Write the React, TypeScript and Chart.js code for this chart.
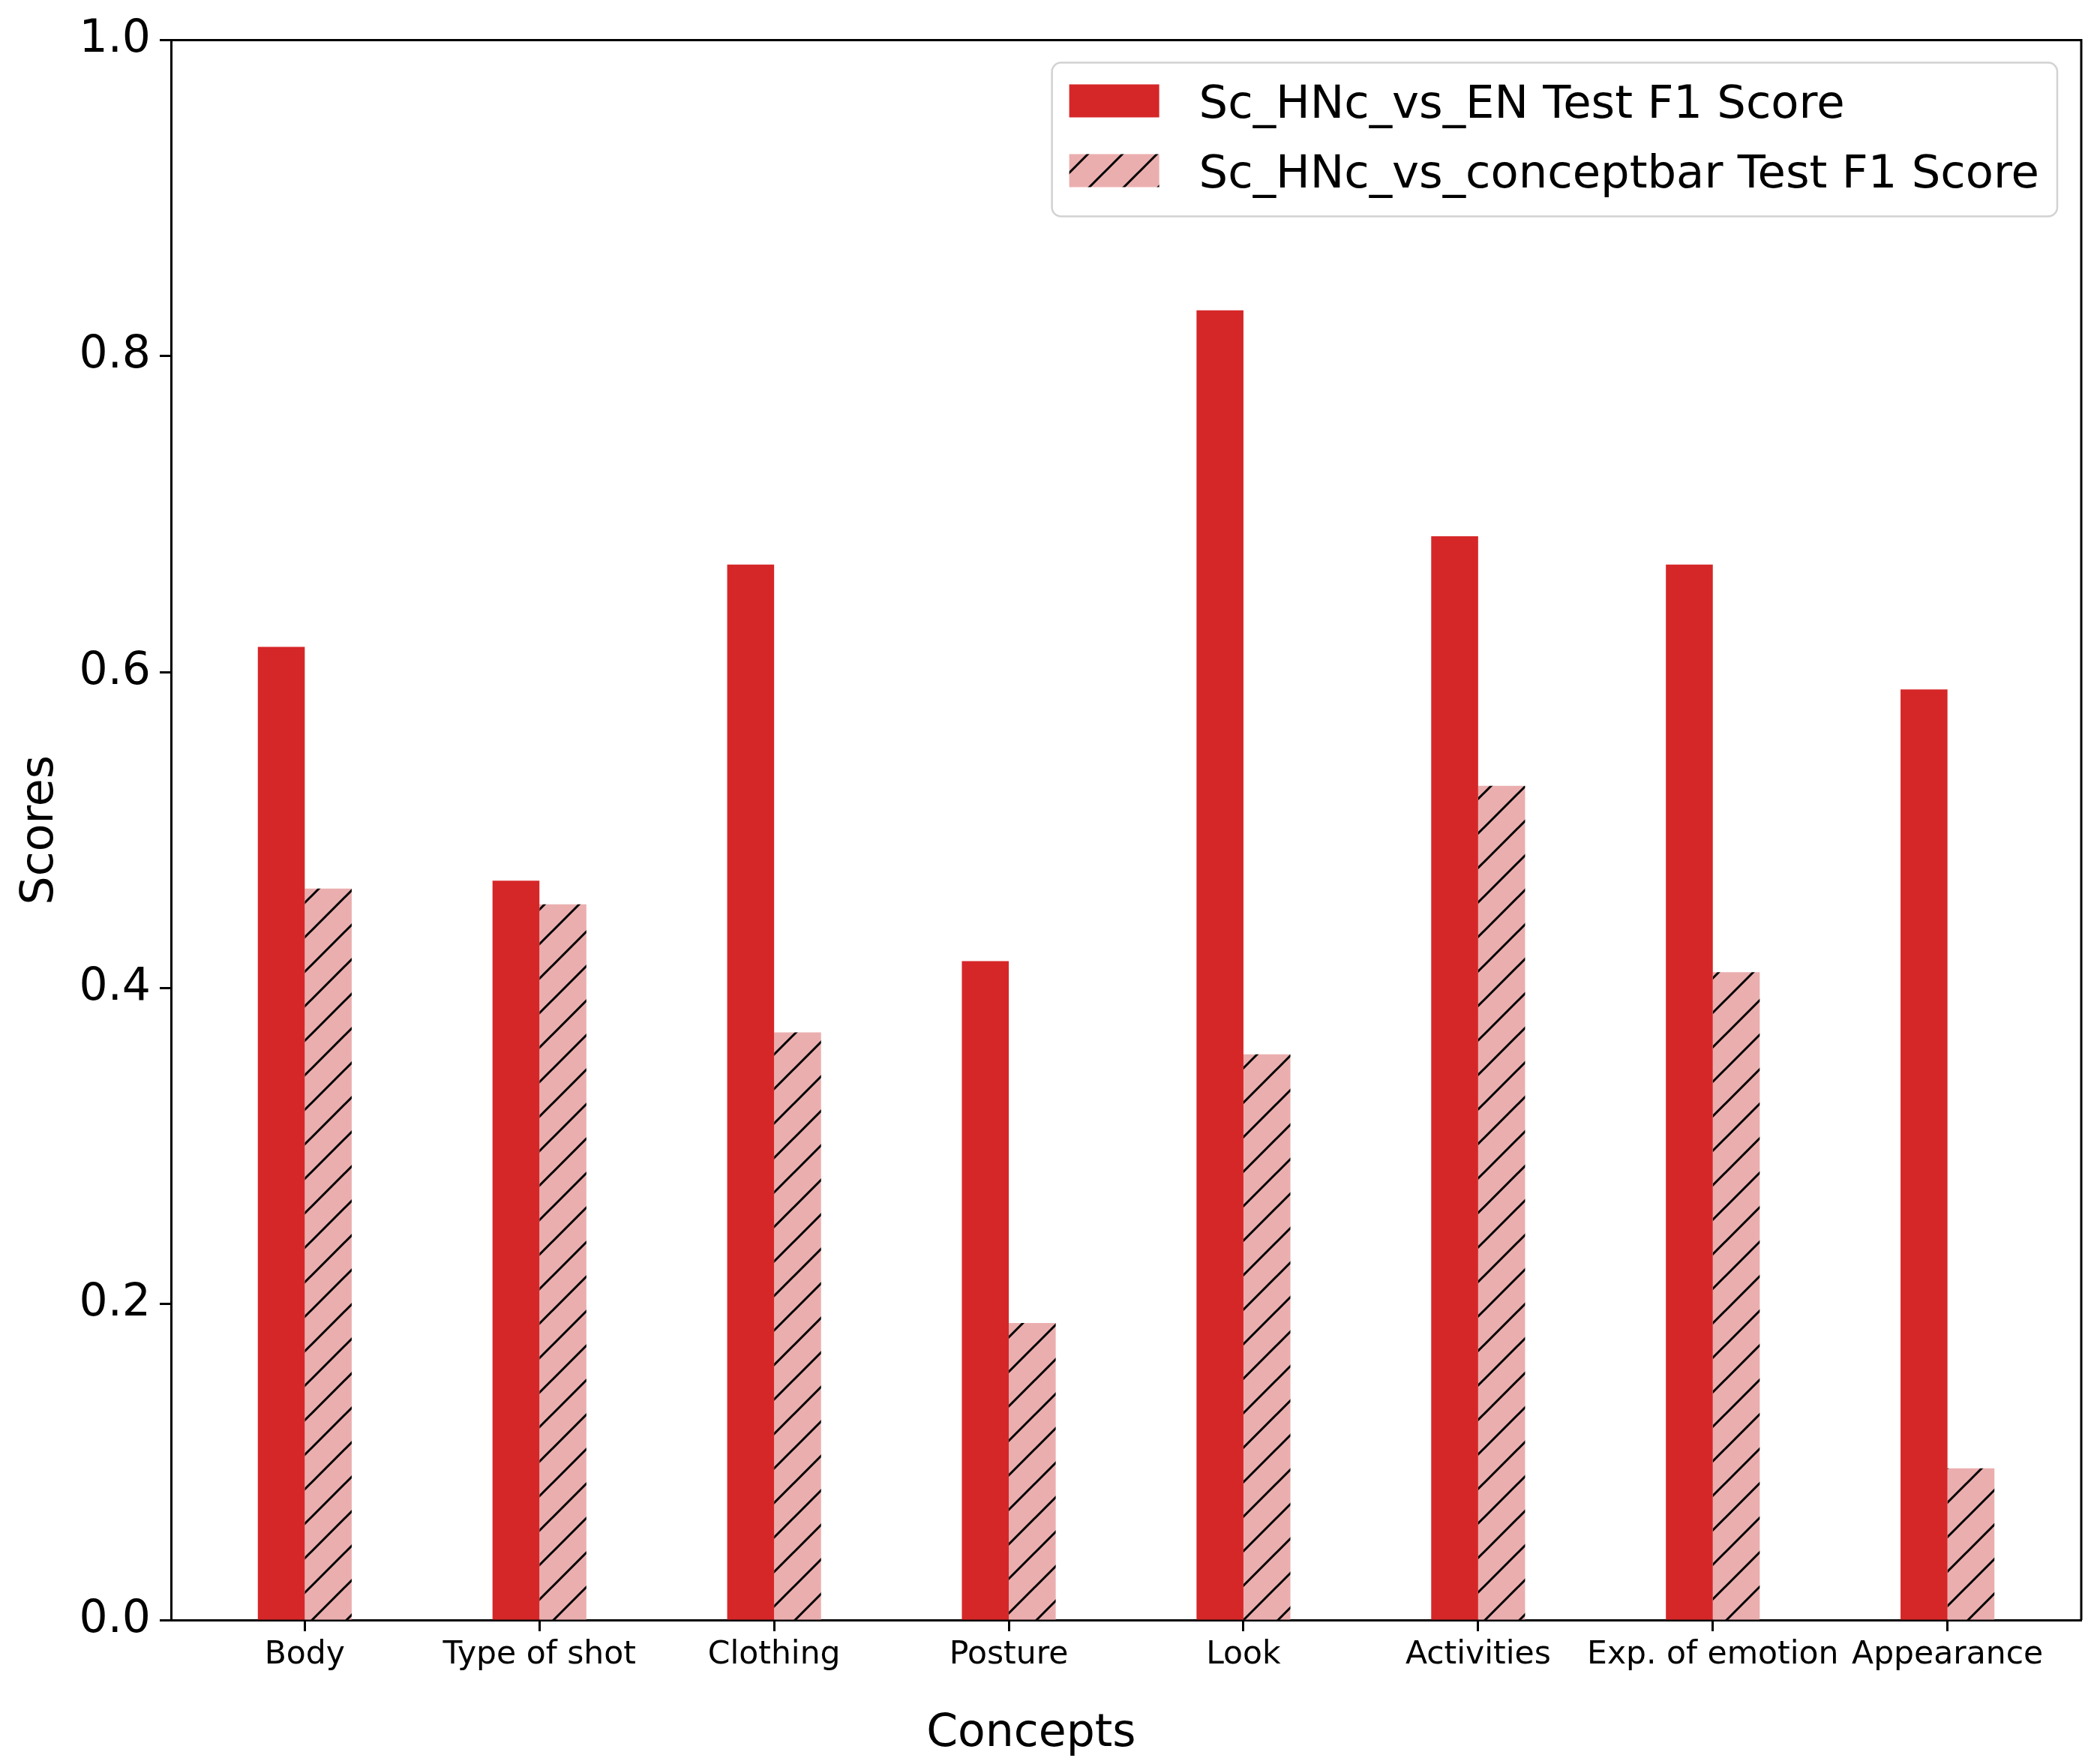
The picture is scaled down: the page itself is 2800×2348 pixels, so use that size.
import React, { useEffect, useRef } from "react"
import { Chart, registerables } from "chart.js"

Chart.register(...registerables)

const concepts = [
  "Body",
  "Type of shot",
  "Clothing",
  "Posture",
  "Look",
  "Activities",
  "Exp. of emotion",
  "Appearance",
]
const enScores = [0.616, 0.468, 0.668, 0.417, 0.829, 0.686, 0.668, 0.589]
const conceptbarScores = [0.463, 0.453, 0.372, 0.188, 0.358, 0.528, 0.41, 0.096]
const seriesLabels = [
  "Sc_HNc_vs_EN Test F1 Score",
  "Sc_HNc_vs_conceptbar Test F1 Score",
]
const yTicks = [0, 0.2, 0.4, 0.6, 0.8, 1.0]
const xTitle = "Concepts"
const yTitle = "Scores"

const RED = "#d62728"
const PINK = "#ebaeae"
const FONT = "'DejaVu Sans', sans-serif"

// diagonal '//' hatch like matplotlib
function makeHatch(): CanvasPattern | string {
  const s = 46
  const c = document.createElement("canvas")
  c.width = s
  c.height = s
  const g = c.getContext("2d")
  if (!g) return PINK
  g.fillStyle = PINK
  g.fillRect(0, 0, s, s)
  g.strokeStyle = "#000"
  g.lineWidth = 3
  g.beginPath()
  g.moveTo(0, s)
  g.lineTo(s, 0)
  g.moveTo(-s / 4, s / 4)
  g.lineTo(s / 4, -s / 4)
  g.moveTo((3 * s) / 4, (5 * s) / 4)
  g.lineTo((5 * s) / 4, (3 * s) / 4)
  g.stroke()
  return g.createPattern(c, "repeat") || PINK
}

const App: React.FC = () => {
  const canvasRef = useRef<HTMLCanvasElement>(null)
  const chartRef = useRef<Chart | null>(null)

  useEffect(() => {
    if (!canvasRef.current) return
    const ctx = canvasRef.current.getContext("2d")
    if (!ctx) return
    if (chartRef.current) chartRef.current.destroy()

    const hatch = makeHatch()

    // top/right spines, x title and the in-plot legend
    const decorations = {
      id: "decorations",
      afterDraw(chart: Chart) {
        const { ctx: c, chartArea: a } = chart
        c.save()
        c.strokeStyle = "#000"
        c.lineWidth = 3
        c.beginPath()
        c.moveTo(a.left, a.top)
        c.lineTo(a.right, a.top)
        c.lineTo(a.right, a.bottom)
        c.stroke()

        // x axis title
        c.fillStyle = "#000"
        c.font = `60px ${FONT}`
        c.textAlign = "center"
        c.textBaseline = "alphabetic"
        c.fillText(xTitle, a.left + (a.right - a.left) * 0.4503, 2328)

        // legend
        c.font = `60.8px ${FONT}`
        const textW = Math.max(...seriesLabels.map((l) => c.measureText(l).width))
        const padL = 23
        const swW = 120
        const swH = 44
        const gap = 53
        const padR = 24
        const boxW = padL + swW + gap + textW + padR
        const boxH = 205
        const boxR = a.right - 32
        const boxL = boxR - boxW
        const boxT = a.top + 30
        c.beginPath()
        c.roundRect(boxL, boxT, boxW, boxH, 12)
        c.fillStyle = "rgba(255,255,255,0.85)"
        c.fill()
        c.strokeStyle = "#d2d2d2"
        c.lineWidth = 2.5
        c.stroke()
        const fills = [RED, hatch]
        seriesLabels.forEach((label, i) => {
          const cy = boxT + 51 + i * 93
          c.fillStyle = fills[i] as any
          c.fillRect(boxL + padL, cy - swH / 2, swW, swH)
          c.fillStyle = "#000"
          c.textAlign = "left"
          c.textBaseline = "alphabetic"
          c.fillText(label, boxL + padL + swW + gap, cy + 22)
        })
        c.restore()
      },
    }

    chartRef.current = new Chart(ctx, {
      type: "bar",
      data: {
        datasets: [
          {
            label: seriesLabels[0],
            data: enScores.map((v, i) => ({ x: i, y: v })),
            backgroundColor: RED,
            borderWidth: 0,
            barPercentage: 1,
            categoryPercentage: 0.4,
          },
          {
            label: seriesLabels[1],
            data: conceptbarScores.map((v, i) => ({ x: i, y: v })),
            backgroundColor: hatch as any,
            borderWidth: 0,
            barPercentage: 1,
            categoryPercentage: 0.4,
          },
        ],
      },
      options: {
        responsive: false,
        animation: false,
        devicePixelRatio: 1,
        layout: { padding: { top: 53.5, right: 25, left: 0, bottom: 0 } },
        font: { family: FONT },
        scales: {
          x: {
            type: "linear",
            min: -0.57,
            max: 7.57,
            offset: false,
            afterBuildTicks: (scale: any) => {
              scale.ticks = concepts.map((_, i) => ({ value: i }))
            },
            afterFit: (scale: any) => {
              scale.height = 188
            },
            grid: {
              offset: false,
              drawOnChartArea: false,
              drawTicks: true,
              tickLength: 15,
              tickWidth: 3,
              tickColor: "#000",
            },
            border: { display: true, color: "#000", width: 3 },
            ticks: {
              autoSkip: false,
              maxRotation: 0,
              minRotation: 0,
              padding: 6,
              color: "#000",
              font: { family: FONT, size: 42.5 },
              callback: (v: any) => concepts[Math.round(Number(v))] ?? "",
            },
          },
          y: {
            min: 0,
            max: 1,
            afterBuildTicks: (scale: any) => {
              scale.ticks = yTicks.map((v) => ({ value: v }))
            },
            afterFit: (scale: any) => {
              scale.width = 228
            },
            grid: {
              drawOnChartArea: false,
              drawTicks: true,
              tickLength: 15,
              tickWidth: 3,
              tickColor: "#000",
            },
            border: { display: true, color: "#000", width: 3 },
            ticks: {
              padding: 12,
              color: "#000",
              font: { family: FONT, size: 60 },
              callback: (v: any) => Number(v).toFixed(1),
            },
            title: {
              display: true,
              text: yTitle,
              color: "#000",
              font: { family: FONT, size: 60 },
              padding: { top: 18, bottom: 0 },
            },
          },
        },
        plugins: {
          legend: { display: false },
          tooltip: { enabled: false },
        },
      },
      plugins: [decorations],
    } as any)

    return () => {
      if (chartRef.current) {
        chartRef.current.destroy()
        chartRef.current = null
      }
    }
  }, [])

  return (
    <div
      style={{
        position: "fixed",
        left: 0,
        top: 0,
        width: 2800,
        height: 2348,
        background: "#fff",
      }}
    >
      <canvas
        ref={canvasRef}
        width={2800}
        height={2348}
        style={{ width: 2800, height: 2348, display: "block" }}
      ></canvas>
    </div>
  )
}

export default App
